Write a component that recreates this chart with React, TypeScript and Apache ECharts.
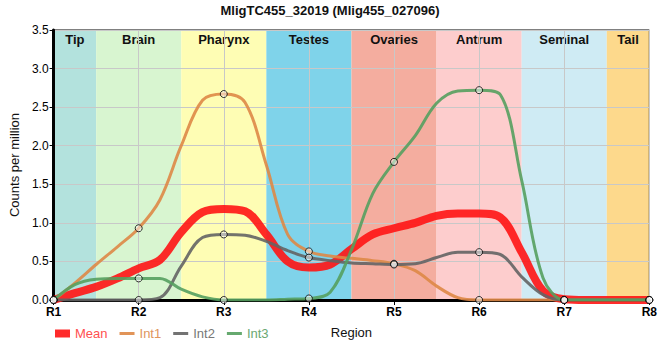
import React, { useEffect, useRef } from "react";
import * as echarts from "echarts";

const titleText = "MligTC455_32019 (Mlig455_027096)";
const tickLabels = ["R1", "R2", "R3", "R4", "R5", "R6", "R7", "R8"];
const regionNames = ["Tip", "Brain", "Pharynx", "Testes", "Ovaries", "Antrum", "Seminal", "Tail"];
const regionEdges = [1, 1.5, 2.5, 3.5, 4.5, 5.5, 6.5, 7.5, 8];
const regionColors = ["#b3e2dd", "#d8f5d0", "#fefdb4", "#7fd3ea", "#f4ad9f", "#fdcdcd", "#cfebf4", "#fdd98c"];

// sample positions along the region axis (1 = R1 ... 8 = R8)
const xs = [1, 1.25, 1.5, 1.75, 2, 2.25, 2.5, 2.75, 3, 3.25, 3.5, 3.75, 4, 4.25, 4.5, 4.75, 5, 5.25, 5.5, 5.75, 6, 6.25, 6.5, 6.75, 7, 7.25, 7.5, 7.75, 8];
const meanVals = [0, 0.09, 0.17, 0.28, 0.41, 0.52, 0.88, 1.14, 1.18, 1.15, 0.85, 0.5, 0.42, 0.46, 0.66, 0.85, 0.93, 1.0, 1.09, 1.12, 1.12, 1.07, 0.62, 0.12, 0.01, 0, 0, 0, 0];
const int1Vals = [0, 0.22, 0.46, 0.69, 0.93, 1.3, 2.0, 2.59, 2.67, 2.56, 1.75, 0.85, 0.63, 0.57, 0.54, 0.51, 0.47, 0.38, 0.18, 0.03, 0, 0, 0, 0, 0, 0, 0, 0, 0];
const int2Vals = [0, 0, 0, 0, 0, 0.03, 0.44, 0.81, 0.85, 0.84, 0.76, 0.64, 0.55, 0.51, 0.48, 0.47, 0.46, 0.47, 0.55, 0.62, 0.62, 0.59, 0.3, 0.07, 0, 0, 0, 0, 0];
const int3Vals = [0, 0.2, 0.27, 0.28, 0.28, 0.28, 0.14, 0.04, 0, 0, 0, 0.01, 0.02, 0.1, 0.65, 1.38, 1.79, 2.13, 2.55, 2.71, 2.72, 2.66, 1.55, 0.29, 0, 0, 0, 0, 0];

const seriesNames = ["Mean", "Int1", "Int2", "Int3"];
const seriesColors = ["rgba(255,20,20,0.9)", "rgba(222,136,70,0.9)", "rgba(100,100,100,0.9)", "rgba(85,160,95,0.9)"];
const legendTextColors = ["#ff4f4f", "#e0955e", "#777777", "#6aa872"];
const seriesWidths = [8, 3, 3, 3];

export default function App() {
  const ref = useRef<HTMLDivElement>(null);
  useEffect(() => {
    document.body.style.margin = "0";
    if (!ref.current) return;
    const chart = echarts.init(ref.current, null, { renderer: "svg" });
    const allVals = [meanVals, int1Vals, int2Vals, int3Vals];
    const pairs = (vals: number[]) => xs.map((x, i) => [x, vals[i]]);
    const markerPairs = (vals: number[]) =>
      xs.map((x, i) => [x, vals[i]]).filter((p) => Number.isInteger(p[0]));

    const bandData = regionNames.map((name, i) => [
      { xAxis: regionEdges[i], name, itemStyle: { color: regionColors[i] } },
      { xAxis: regionEdges[i + 1] },
    ]);

    const font = "'Liberation Sans', Arial, sans-serif";

    const series: any[] = [
      {
        type: "line",
        name: "__bands",
        data: [],
        z: 1,
        silent: true,
        markArea: {
          silent: true,
          label: {
            show: true,
            position: "insideTop",
            distance: 3,
            color: "#111",
            fontWeight: "bold",
            fontSize: 13,
            fontFamily: font,
          },
          data: bandData,
        },
      },
    ];
    seriesNames.forEach((name, i) => {
      series.push({
        type: "line",
        name,
        data: pairs(allVals[i]),
        smooth: 0.35,
        symbol: "none",
        z: i === 0 ? 5 : 6,
        lineStyle: { color: seriesColors[i], width: seriesWidths[i] },
        itemStyle: { color: seriesColors[i] },
      });
    });
    [int1Vals, int2Vals, int3Vals].forEach((vals, i) => {
      series.push({
        type: "scatter",
        name: "__m" + i,
        data: markerPairs(vals),
        symbol: "circle",
        symbolSize: 7,
        z: 8,
        silent: true,
        itemStyle: { color: "rgba(255,255,255,0.6)", borderColor: "#000", borderWidth: 1 },
      });
    });

    const thickIcon = "path://M0,0L0,0M0,0L15,0L15,8L0,8Z";
    const thinIcon = "path://M0,0L0,0M0,2.5L15,2.5L15,5.5L0,5.5ZM15,8L15,8";

    chart.setOption({
      animation: false,
      textStyle: { fontFamily: font },
      title: {
        text: titleText,
        left: "center",
        top: -1,
        textStyle: { fontSize: 13, fontWeight: "bold", color: "#111", fontFamily: font },
      },
      legend: {
        left: 50,
        top: 322,
        itemWidth: 15,
        itemHeight: 8,
        itemGap: 12,
        data: seriesNames.map((n, i) => ({
          name: n,
          icon: i === 0 ? thickIcon : thinIcon,
          textStyle: { color: legendTextColors[i], fontSize: 13, fontFamily: font },
        })),
      },
      grid: { left: 50, right: 10, top: 30, bottom: 60, show: true, borderColor: "#000", borderWidth: 1, z: 3, backgroundColor: "transparent" },
      xAxis: {
        type: "value",
        min: 1,
        max: 8,
        interval: 1,
        z: 3,
        name: "Region",
        nameLocation: "middle",
        nameGap: 26,
        nameTextStyle: { fontSize: 13, color: "#111", fontFamily: font },
        axisLine: { show: true, lineStyle: { color: "#000", width: 3 } },
        axisTick: { show: true, length: 5, lineStyle: { color: "#000" } },
        axisLabel: { formatter: (v: number) => tickLabels[v - 1] ?? "", color: "#000", fontSize: 12, fontWeight: "bold", margin: 6 },
        splitLine: { show: true, lineStyle: { color: "#c8c8c8", width: 1 } },
      },
      yAxis: {
        type: "value",
        min: 0,
        max: 3.5,
        interval: 0.5,
        z: 3,
        name: "Counts per million",
        nameLocation: "middle",
        nameGap: 30,
        nameTextStyle: { fontSize: 13, color: "#111", fontFamily: font },
        axisLine: { show: true, lineStyle: { color: "#000", width: 3 } },
        axisTick: { show: true, length: 4, lineStyle: { color: "#000" } },
        axisLabel: { formatter: (v: number) => v.toFixed(1), color: "#000", fontSize: 12, margin: 5 },
        splitLine: { show: true, lineStyle: { color: "#c8c8c8", width: 1 } },
      },
      series,
    });
    return () => chart.dispose();
  }, []);
  return <div ref={ref} style={{ width: 660, height: 360 }} />;
}
